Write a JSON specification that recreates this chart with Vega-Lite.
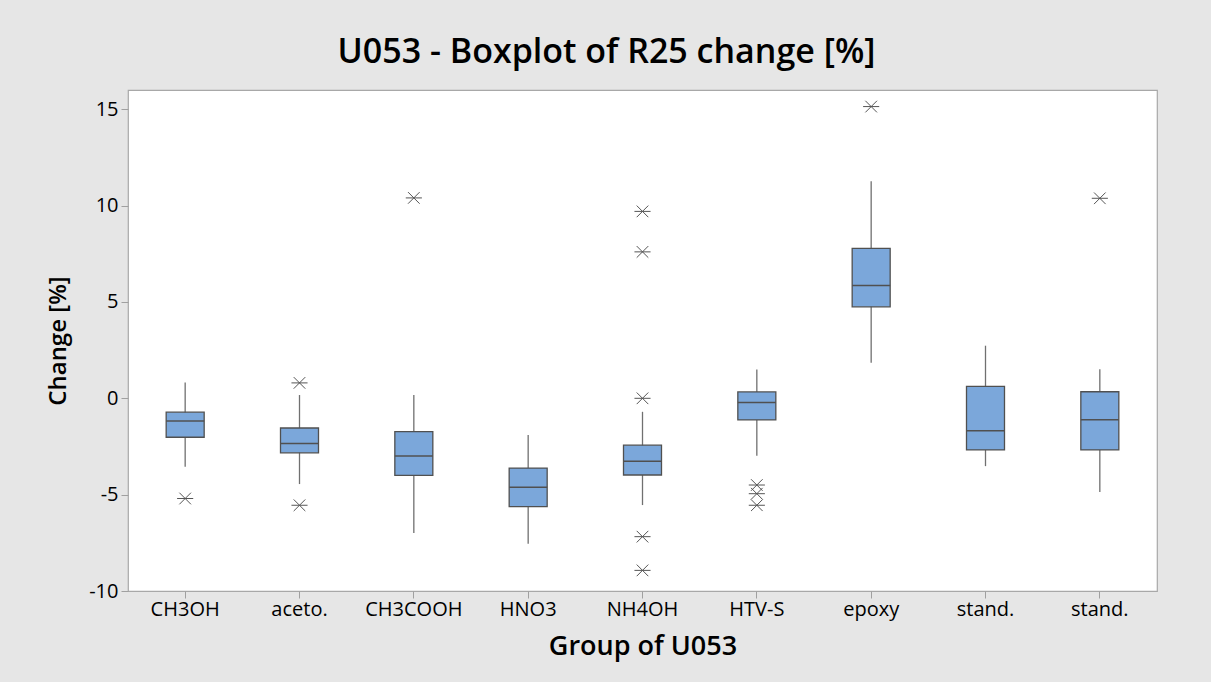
{
  "$schema": "https://vega.github.io/schema/vega-lite/v6.json",
  "width": 1029,
  "height": 501,
  "autosize": {"type": "none"},
  "padding": {"left": 128, "top": 90, "right": 54, "bottom": 91},
  "background": "#E6E6E6",
  "title": {
    "text": "U053 - Boxplot of R25 change [%]",
    "font": "Open Sans",
    "fontSize": 34,
    "fontWeight": 600,
    "color": "#000000",
    "anchor": "middle",
    "dx": -36,
    "offset": 20
  },
  "datasets": {
    "boxes": [
      {"group": "CH3OH", "lo": -3.55, "q1": -2.02, "med": -1.18, "q3": -0.72, "hi": 0.82},
      {"group": "aceto.", "lo": -4.45, "q1": -2.83, "med": -2.35, "q3": -1.54, "hi": 0.17},
      {"group": "CH3COOH", "lo": -6.99, "q1": -4.0, "med": -3.0, "q3": -1.73, "hi": 0.17},
      {"group": "HNO3", "lo": -7.55, "q1": -5.62, "med": -4.62, "q3": -3.62, "hi": -1.9},
      {"group": "NH4OH", "lo": -5.54, "q1": -3.98, "med": -3.27, "q3": -2.43, "hi": -0.7},
      {"group": "HTV-S", "lo": -2.98, "q1": -1.12, "med": -0.22, "q3": 0.33, "hi": 1.5},
      {"group": "epoxy", "lo": 1.84, "q1": 4.75, "med": 5.85, "q3": 7.78, "hi": 11.26},
      {"group": "stand.1", "lo": -3.52, "q1": -2.68, "med": -1.68, "q3": 0.62, "hi": 2.73},
      {"group": "stand.2", "lo": -4.86, "q1": -2.68, "med": -1.11, "q3": 0.34, "hi": 1.51}
    ],
    "outliers": [
      {"group": "CH3OH", "value": -5.2},
      {"group": "aceto.", "value": 0.8},
      {"group": "aceto.", "value": -5.55},
      {"group": "CH3COOH", "value": 10.4},
      {"group": "NH4OH", "value": 9.7},
      {"group": "NH4OH", "value": 7.6},
      {"group": "NH4OH", "value": 0.0},
      {"group": "NH4OH", "value": -7.18},
      {"group": "NH4OH", "value": -8.93},
      {"group": "HTV-S", "value": -4.5},
      {"group": "HTV-S", "value": -4.95},
      {"group": "HTV-S", "value": -5.55},
      {"group": "epoxy", "value": 15.14},
      {"group": "stand.2", "value": 10.38}
    ]
  },
  "encoding": {
    "x": {
      "field": "group",
      "type": "nominal",
      "scale": {
        "type": "band",
        "domain": ["CH3OH", "aceto.", "CH3COOH", "HNO3", "NH4OH", "HTV-S", "epoxy", "stand.1", "stand.2"],
        "paddingInner": 0,
        "paddingOuter": 0
      },
      "axis": {
        "title": "Group of U053",
        "labelExpr": "indexof(datum.label, 'stand.') == 0 ? 'stand.' : datum.label",
        "labelAngle": 0,
        "labelFont": "Open Sans",
        "labelFontSize": 20,
        "labelFontWeight": 500,
        "labelColor": "#000000",
        "labelPadding": 1,
        "tickColor": "#A0A0A0",
        "tickSize": 7,
        "domain": false,
        "grid": false,
        "titleFont": "Open Sans",
        "titleFontSize": 27,
        "titleFontWeight": 600,
        "titleColor": "#000000",
        "titlePadding": 14
      }
    }
  },
  "layer": [
    {
      "data": {"name": "boxes"},
      "mark": {"type": "rule", "color": "#707070", "strokeWidth": 1.3},
      "encoding": {
        "y": {
          "field": "lo",
          "type": "quantitative",
          "scale": {"domain": [-10, 16], "nice": false, "zero": false},
          "axis": {
            "title": "Change [%]",
            "values": [-10, -5, 0, 5, 10, 15],
            "labelExpr": "replace(datum.label, '\u2212', '-')",
            "labelFont": "Open Sans",
            "labelFontSize": 20,
            "labelFontWeight": 500,
            "labelColor": "#000000",
            "labelPadding": 3,
            "tickColor": "#A0A0A0",
            "tickSize": 7,
            "domain": false,
            "grid": false,
            "titleFont": "Open Sans",
            "titleFontSize": 24,
            "titleFontWeight": 600,
            "titleColor": "#000000",
            "titlePadding": 18
          }
        },
        "y2": {"field": "hi"}
      }
    },
    {
      "data": {"name": "boxes"},
      "mark": {"type": "bar", "size": 38, "fill": "#7BA7DA", "stroke": "#505050", "strokeWidth": 1.3},
      "encoding": {
        "y": {"field": "q1", "type": "quantitative"},
        "y2": {"field": "q3"}
      }
    },
    {
      "data": {"name": "boxes"},
      "mark": {"type": "tick", "size": 38, "thickness": 1.5, "color": "#505050", "opacity": 1},
      "encoding": {
        "y": {"field": "med", "type": "quantitative"}
      }
    },
    {
      "data": {"name": "outliers"},
      "mark": {
        "type": "point",
        "shape": "M-1,0L1,0M-0.72,-0.72L0.72,0.72M-0.72,0.72L0.72,-0.72",
        "size": 260,
        "filled": false,
        "stroke": "#555555",
        "strokeWidth": 1,
        "opacity": 1
      },
      "encoding": {
        "y": {"field": "value", "type": "quantitative"}
      }
    }
  ],
  "config": {
    "view": {"stroke": "#A8A8A8", "strokeWidth": 1.2, "fill": "#FFFFFF"}
  }
}
